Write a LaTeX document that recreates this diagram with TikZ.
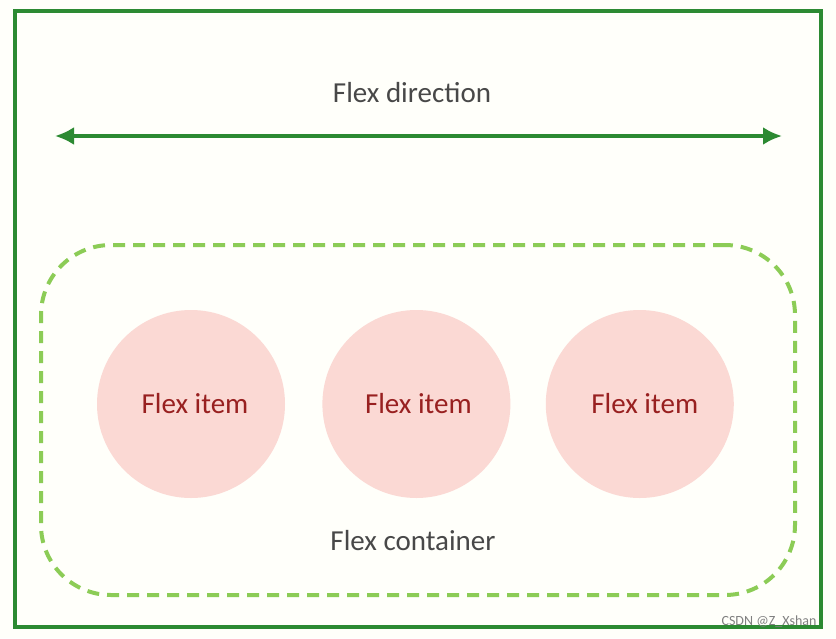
\documentclass[tikz,border=0pt]{standalone}
\usepackage{fontspec}
\setmainfont{Carlito}
\usepackage{tikz}
\usetikzlibrary{arrows.meta,positioning}
\definecolor{framegreen}{RGB}{44,138,50}
\definecolor{dashgreen}{RGB}{140,204,86}
\definecolor{itempink}{RGB}{251,217,212}
\definecolor{itemred}{RGB}{152,32,32}
\definecolor{textgray}{RGB}{72,72,72}
\tikzset{
frame/.style={draw=framegreen,line width=4pt,minimum width=806pt,minimum height=616pt,inner sep=0pt},
container/.style={draw=dashgreen,line width=4pt,dash pattern=on 12pt off 8pt,rounded corners=70pt,minimum width=754pt,minimum height=350pt,inner sep=0pt},
flexitem/.style={circle,fill=itempink,minimum size=188pt,inner sep=0pt,text=itemred,font=\fontsize{29}{34}\selectfont},
plaintext/.style={text=textgray,font=\fontsize{29}{34}\selectfont},
arrow/.style={{Latex[length=19pt,width=18pt]}-{Latex[length=19pt,width=18pt]},line width=3.5pt,draw=framegreen}
}
\begin{document}
\begin{tikzpicture}[x=1pt,y=-1pt,node distance=36pt]
\useasboundingbox[fill=white!98!yellow] (0,0) rectangle (836,638);
\node[frame] (box) at (418,319) {};
\node[plaintext] (dirlabel) at (412,93) {Flex direction};
\coordinate (dirL) at (55,136);
\coordinate (dirR) at (782,136);
\draw[arrow] (dirL) -- (dirR);
\node[container] (cont) at (418,420) {};
\node[flexitem] (item1) at (191,404) {\hspace{8pt}Flex item};
\node[flexitem,right=37pt of item1] (item2) {\hspace{4pt}Flex item};
\node[flexitem,right=35pt of item2] (item3) {\hspace{10pt}Flex item};
\node[plaintext] (contlabel) at (413,541) {Flex container};
\node[text=gray,font=\fontsize{14}{16}\selectfont,anchor=east] (mark) at (820,622) {CSDN @Z\_Xshan};
\end{tikzpicture}
\end{document}
